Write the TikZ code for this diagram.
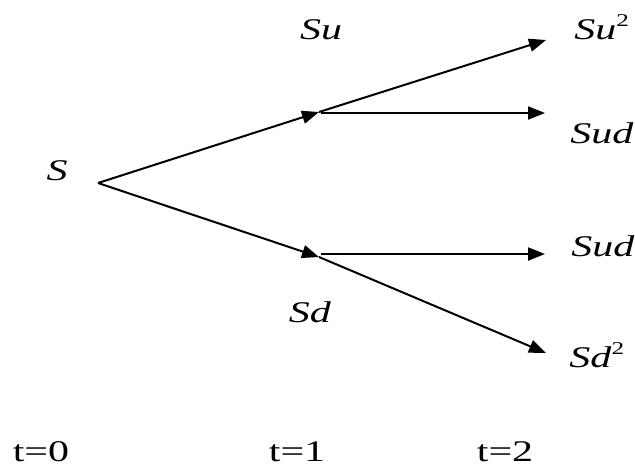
\documentclass[tikz,border=0pt]{standalone}
\usepackage{fontspec}
\setmainfont{Liberation Serif}
\usetikzlibrary{arrows.meta}
\newcommand{\widetxt}[1]{\scalebox{1.4}[1]{#1}}
\tikzset{
  lab/.style={inner sep=0pt, font=\fontsize{15}{18}\selectfont},
  edge/.style={line width=1pt, -{Triangle[length=8.5pt,width=6.5pt]}},
}
\begin{document}
\begin{tikzpicture}[x=0.5pt,y=-0.5pt]
\useasboundingbox (0,0) rectangle (635,468);
% branch points
\coordinate (n0) at (98,183);
\coordinate (nu) at (319,112);
\coordinate (nu2) at (321,113);
\coordinate (nd) at (319,257);
\coordinate (nd2) at (321,254);
\coordinate (nuu) at (546,40);
\coordinate (nud) at (545,113);
\coordinate (ndu) at (545,254);
\coordinate (ndd) at (546,353);
% labels
\node[lab] (S) at (57,171) {\widetxt{\textit{S}}};
\node[lab] (Su) at (321,30) {\widetxt{\textit{Su}}};
\node[lab] (Sd) at (310,312) {\widetxt{\textit{Sd}}};
\node[lab,anchor=west] (Suu) at (574,27) {\widetxt{\textit{Su}\raisebox{0.45em}{\fontsize{9}{10}\selectfont 2}}};
\node[lab,anchor=west] (Sud1) at (570,133) {\widetxt{\textit{Sud}}};
\node[lab,anchor=west] (Sud2) at (571,246) {\widetxt{\textit{Sud}}};
\node[lab,anchor=west] (Sdd) at (569,355) {\widetxt{\textit{Sd}\raisebox{0.45em}{\fontsize{9}{10}\selectfont 2}}};
\node[lab] (t0) at (41,452) {\widetxt{t=0}};
\node[lab] (t1) at (297,452) {\widetxt{t=1}};
\node[lab] (t2) at (505,452) {\widetxt{t=2}};
% connectors
\draw[edge] (n0) -- (nu);
\draw[edge] (n0) -- (nd);
\draw[edge] (nu) -- (nuu);
\draw[edge] (nu2) -- (nud);
\draw[edge] (nd2) -- (ndu);
\draw[edge] (nd) -- (ndd);
\end{tikzpicture}
\end{document}
